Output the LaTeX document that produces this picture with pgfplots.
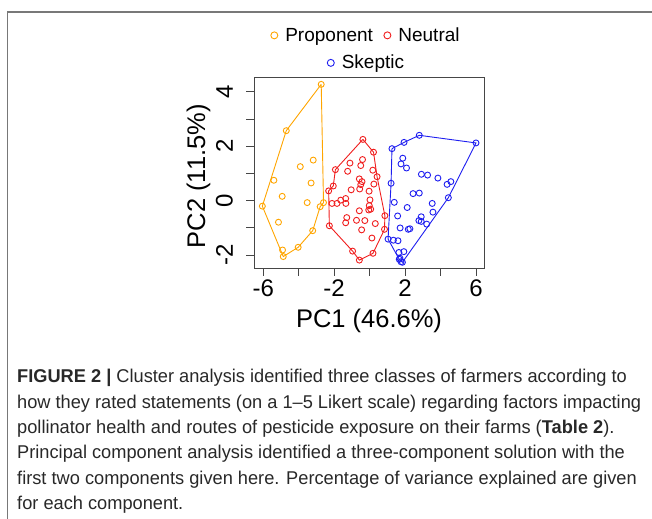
\documentclass[border=0pt]{standalone}
\usepackage{pgfplots}
\pgfplotsset{compat=1.18}
\usepackage{fontspec}
\setmainfont{Liberation Sans}
\newfontfamily\capfont[FakeStretch=0.985]{Liberation Sans}

\definecolor{porange}{RGB}{255,165,0}
\definecolor{pred}{RGB}{240,30,30}
\definecolor{pblue}{RGB}{30,30,240}
\definecolor{axisgray}{RGB}{70,70,70}
\definecolor{framegray}{RGB}{120,120,120}
\definecolor{captext}{RGB}{40,40,40}

% PCA scores
\pgfplotstableread{
x y
-2.73 4.27
-4.70 2.57
-6.05 -0.20
-5.40 0.75
-4.93 0.16
-5.14 -0.79
-4.91 -1.81
-4.87 -2.05
-4.03 -1.71
-3.21 -1.10
-3.91 1.25
-3.18 1.49
-3.30 0.65
-3.52 -0.07
-2.79 -0.22
-2.60 -0.07
}\proponent
\pgfplotstableread{
x y
-2.73 4.27
-4.70 2.57
-6.05 -0.20
-4.87 -2.05
-4.03 -1.71
-3.21 -1.10
-2.79 -0.22
-2.60 -0.07
-2.73 4.27
}\proponenthull
\pgfplotstableread{
x y
-0.38 2.25
0.22 1.78
0.42 0.88
0.86 -0.55
0.84 -1.05
0.19 -1.93
-0.58 -2.18
-0.96 -1.85
-2.27 -0.92
-2.31 0.36
-2.05 0.54
-1.93 1.14
-1.11 1.38
-0.40 1.51
-0.50 1.29
-1.24 1.08
0.18 1.12
-0.58 0.80
-0.43 0.70
-0.50 0.59
-0.56 0.43
0.24 0.61
-1.04 0.40
-0.03 0.35
-2.12 -0.10
-1.84 -0.10
-1.63 0.02
-1.35 0.08
-1.34 -0.10
0.02 0.03
-0.02 -0.18
0.06 -0.31
-0.05 -0.34
-0.58 -0.37
-1.29 -0.62
-1.35 -0.81
-0.74 -0.72
-0.27 -0.73
0.32 -0.84
-0.45 -1.07
0.13 -1.37
}\neutral
\pgfplotstableread{
x y
-0.38 2.25
0.22 1.78
0.42 0.88
0.86 -0.55
0.84 -1.05
0.19 -1.93
-0.58 -2.18
-0.96 -1.85
-2.27 -0.92
-2.31 0.36
-2.05 0.54
-1.93 1.14
-0.38 2.25
}\neutralhull
\pgfplotstableread{
x y
1.26 1.91
1.94 2.14
2.80 2.40
6.00 2.12
4.44 0.11
1.85 -2.26
1.67 -2.15
1.04 -1.41
1.21 0.64
1.87 1.56
1.77 1.35
2.08 1.20
2.92 0.97
3.27 0.94
3.85 0.83
4.37 0.60
4.58 0.70
2.45 0.26
2.80 0.28
1.39 -0.06
3.53 -0.10
2.12 -0.25
3.57 -0.42
1.58 -0.56
2.91 -0.59
2.78 -0.73
2.91 -0.76
3.22 -0.86
1.72 -1.00
2.18 -1.05
2.27 -1.03
1.34 -1.45
1.60 -1.47
1.65 -1.90
1.93 -1.87
1.71 -2.11
1.77 -2.24
}\skeptic
\pgfplotstableread{
x y
1.26 1.91
1.94 2.14
2.80 2.40
6.00 2.12
4.44 0.11
1.85 -2.26
1.67 -2.15
1.04 -1.41
1.21 0.64
1.26 1.91
}\skeptichull

\pgfplotsset{
  pcabox/.style={
    at={(254bp,251bp)}, anchor=south west,
    scale only axis, width=230bp, height=191bp,
  },
  pts/.style={only marks, mark=o, mark size=3bp, line width=0.9bp},
  hull/.style={no marks, line width=0.9bp, forget plot},
}

\begin{document}
\begin{tikzpicture}
\useasboundingbox (0,0) rectangle (652bp,519bp);
\draw[framegray, line width=1.2bp] (7.5bp,0bp) -- (7.5bp,507bp) -- (652bp,507bp);

\begin{axis}[
  pcabox,
  xmin=-6.52, xmax=6.45, ymin=-2.47, ymax=4.54,
  axis line style={draw=axisgray, line width=0.9bp},
  tick style={draw=axisgray, line width=0.9bp},
  tick align=outside, major tick length=8bp,
  xtick pos=bottom, ytick pos=left,
  xtick={-6,-4,...,6}, xticklabels={-6,,-2,,2,,6},
  ytick={-2,-1,...,4}, yticklabels={-2,,0,,2,,4},
  ticklabel style={font=\fontsize{24bp}{28bp}\selectfont},
  yticklabel style={rotate=90, anchor=south, inner ysep=13bp},
  xlabel={PC1 (46.6\%)}, ylabel={PC2 (11.5\%)},
  label style={font=\fontsize{25.5bp}{30bp}\selectfont},
  xlabel style={at={(axis description cs:0.5,-0.309)}, anchor=base},
  ylabel style={at={(axis description cs:-0.213,0.48)}, anchor=base},
  legend image code/.code={\draw[#1, mark size=3.5bp] plot coordinates {(0bp,0bp)};
    \path[draw=none, fill=none] (-9bp,0bp) rectangle (9bp,0bp);},
  legend style={at={(axis description cs:0.476,1.218)}, anchor=center,
    draw=none, fill=none, font=\fontsize{19bp}{22bp}\selectfont,
    /tikz/every even column/.append style={column sep=3.4bp}},
  legend columns=2,
]
\addplot[pts, porange] table {\proponent};
\addlegendentry{Proponent}
\addplot[hull, porange] table {\proponenthull};
\addplot[pts, pred] table {\neutral};
\addlegendentry{Neutral}
\addplot[hull, pred] table {\neutralhull};
\addplot[pts, pblue, forget plot] table {\skeptic};
\addplot[hull, pblue] table {\skeptichull};
\end{axis}

% second legend row, centred under the first
\begin{axis}[
  pcabox, hide axis,
  xmin=0, xmax=1, ymin=0, ymax=1,
  legend image code/.code={\draw[#1, mark size=3.5bp] plot coordinates {(0bp,0bp)};
    \path[draw=none, fill=none] (-9bp,0bp) rectangle (9bp,0bp);},
  legend style={at={(axis description cs:0.478,1.074)}, anchor=center,
    draw=none, fill=none, font=\fontsize{19bp}{22bp}\selectfont},
]
\addlegendimage{pts, pblue}
\addlegendentry{Skeptic}
\end{axis}

\node[anchor=north west, align=left, inner sep=0pt, text=captext,
  font=\capfont\fontsize{18.5bp}{25.4bp}\selectfont] at (17bp,150bp) {%
\textbf{FIGURE 2 |} Cluster analysis identified three classes of farmers according to\\
how they rated statements (on a 1–5 Likert scale) regarding factors impacting\\
pollinator health and routes of pesticide exposure on their farms (\textbf{Table 2}).\\
Principal component analysis identified a three-component solution with the\\
first two components given here. Percentage of variance explained are given\\
for each component.};
\end{tikzpicture}
\end{document}
